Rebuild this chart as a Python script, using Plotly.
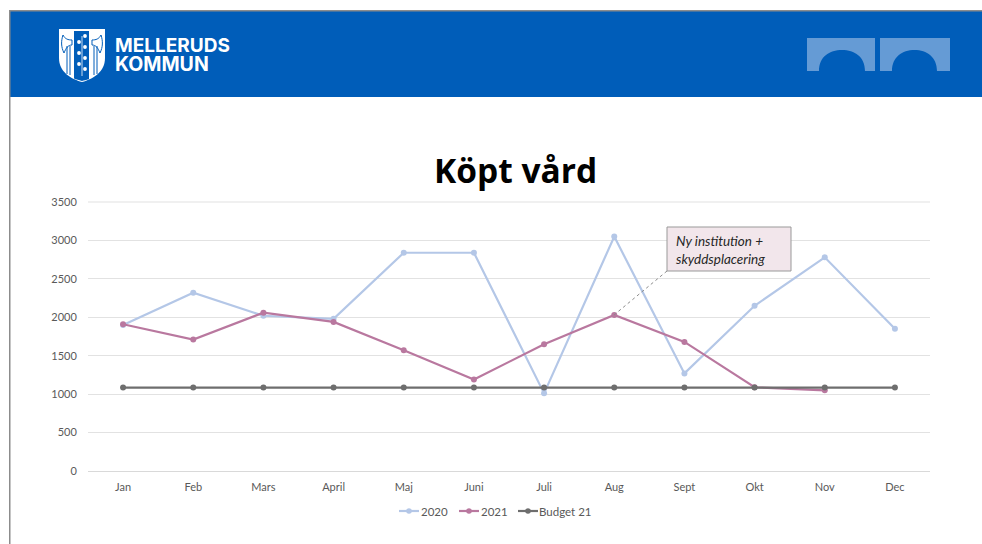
import plotly.graph_objects as go

months = ["Jan","Feb","Mars","April","Maj","Juni","Juli","Aug","Sept","Okt","Nov","Dec"]
v2020 = [1900,2320,2020,1980,2840,2840,1010,3050,1270,2150,2780,1850]
v2021 = [1910,1710,2060,1940,1570,1190,1650,2030,1680,1090,1050,None]
budget = [1085]*12
W, H = 982, 544
L, R, T, B = 88, 930, 201, 471

def px(x): return (x-L)/(R-L)
def py(y): return (B-y)/(B-T)
def rect(x0,y0,x1,y1,fill,line=None,w=0):
    return dict(type="rect",xref="paper",yref="paper",x0=px(x0),x1=px(x1),y0=py(y0),y1=py(y1),
                fillcolor=fill,line=dict(width=w,color=line or fill),layer="above")
def P(cmds):
    out=[]
    for c in cmds:
        nums=c[1:]
        coords=[f"{px(nums[i]):.5f},{py(nums[i+1]):.5f}" for i in range(0,len(nums),2)]
        out.append(c[0]+" "+" ".join(coords))
    return " ".join(out)+" Z"
def shp(cmds,fill,line=None,w=0):
    return dict(type="path",xref="paper",yref="paper",path=P(cmds),fillcolor=fill,
                line=dict(width=w,color=line or fill),layer="above")
def seg(x0,y0,x1,y1,color,w=1,dash="solid"):
    return dict(type="line",xref="paper",yref="paper",x0=px(x0),x1=px(x1),y0=py(y0),y1=py(y1),
                line=dict(color=color,width=w,dash=dash),layer="above")
def dot(x,y,r,color):
    return dict(type="circle",xref="paper",yref="paper",x0=px(x-r),x1=px(x+r),y0=py(y-r),y1=py(y+r),
                fillcolor=color,line=dict(width=0),layer="above")

BLUE="#005DB9"; LIGHT="#659BD5"
shapes=[
    rect(10,11,982,97,BLUE),
    rect(9,10,982,11.5,"#8C8C8C"),
    rect(9,10,10.5,544,"#8C8C8C"),
    dict(type="line",xref="paper",yref="y",x0=0,x1=1,y0=3500,y1=3500,line=dict(color="#E2E2E2",width=1.2),layer="below"),
]
# bridge arches
for a,b,c0,c1 in [(807,875,819,865),(880,950,892,937)]:
    m=(c0+c1)/2; k=(c1-c0)/2
    shapes.append(shp([("M",a,38),("L",b,38),("L",b,71),("L",c1,71),
        ("C",c1,71-k*0.62,m+k*0.55,50,m,50),("C",m-k*0.55,50,c0,71-k*0.62,c0,71),("L",a,71)],LIGHT))
# shield and emblem
shapes.append(shp([("M",59,29),("L",105,29),("L",105,58),("C",105,72,93,79,82,82),("C",71,79,59,72,59,58)],"white"))
shapes.append(shp([("M",74,31),("L",89,31),("L",89,79),("C",86,80,84,80.5,82,81),("C",80,80.5,78,80,74,78.5)],BLUE))
shapes += [
    shp([("M",63,35),("C",65,39,68,40,72,40),("L",72,45),("C",68,45,66,48,64,53),("C",61,47,61,41,63,35)],"white",BLUE,1),
    shp([("M",101,35),("C",99,39,96,40,92,40),("L",92,45),("C",96,45,98,48,100,53),("C",103,47,103,41,101,35)],"white",BLUE,1),
    seg(67,46,67,74,BLUE,1), seg(70,46,70,75,BLUE,1),
    seg(94,46,94,75,BLUE,1), seg(97,46,97,74,BLUE,1),
    seg(82,36,82,76,"white",0.8),
]
for (x,y) in [(85,36),(79,42),(85,47),(79,53),(85,58),(79,64),(85,69)]:
    shapes.append(dot(x,y,1.9,"white"))
# callout box and leader
shapes.append(seg(667,271,614,315,"#8C8C8C",1,"dot"))
shapes.append(rect(667,227,791,271,"#F2E6EB","#999999",1))

C20="#B4C7E7"; C21="#B9789F"; CB="#6E6E6E"
series=[("2020",v2020,C20),("2021",v2021,C21),("Budget 21",budget,CB)]
fig=go.Figure()
for name,vals,col in series:
    fig.add_trace(go.Scatter(x=months,y=vals,name=name,mode="lines+markers",showlegend=False,
        line=dict(color=col,width=2.2),marker=dict(color=col,size=6)))

ann=[
 dict(xref="paper",yref="paper",x=px(113),y=py(55),showarrow=False,xanchor="left",yanchor="middle",align="left",
      text='<span style="font-size:19px"><b>MELLERUDS</b></span><br><span style="font-size:19.5px"><b>KOMMUN</b></span>',
      font=dict(family="Inter",size=14.6,color="white")),
 dict(xref="paper",yref="paper",x=px(515.5),y=py(170),text="<b>Köpt vård</b>",showarrow=False,xanchor="center",yanchor="middle",
      font=dict(family="Open Sans",size=33.5,color="black")),
 dict(xref="paper",yref="paper",x=px(674),y=py(249.5),xanchor="left",yanchor="middle",showarrow=False,
      text="<i>Ny institution +<br>skyddsplacering</i>",align="left",
      font=dict(family="Lato",size=13.5,color="#262626")),
]
# legend keys and labels
for (name,vals,col),(x0,x1,tx) in zip(series,[(399,419,419),(459,479,479),(518,538,537)]):
    shapes.append(seg(x0,511,x1,511,col,2.2))
    shapes.append(dot((x0+x1)/2,511,2.8,col))
    ann.append(dict(xref="paper",yref="paper",x=px(tx),y=py(511),text=name,showarrow=False,xanchor="left",yanchor="middle",
                    font=dict(family="Lato",size=11.5,color="#595959")))

fig.update_layout(width=W,height=H,margin=dict(l=L,r=W-R,t=T,b=H-B),paper_bgcolor="white",plot_bgcolor="white",
    font=dict(family="Lato",size=11,color="#595959"),showlegend=False,
    shapes=shapes,annotations=ann,
    xaxis=dict(range=[-0.5,11.5],showgrid=False,showline=True,linecolor="#D9D9D9",linewidth=1,
               ticks="outside",ticklen=6,tickcolor="rgba(0,0,0,0)",tickfont=dict(size=11)),
    yaxis=dict(range=[0,3513],tickvals=[0,500,1000,1500,2000,2500,3000,3500],gridcolor="#E2E2E2",gridwidth=1.2,
               zeroline=False,showline=False,ticks="outside",ticklen=8,tickcolor="rgba(0,0,0,0)",tickfont=dict(size=11)))
fig.write_html("out.html",config=dict(displayModeBar=False),post_script="document.body.style.margin='0';")
